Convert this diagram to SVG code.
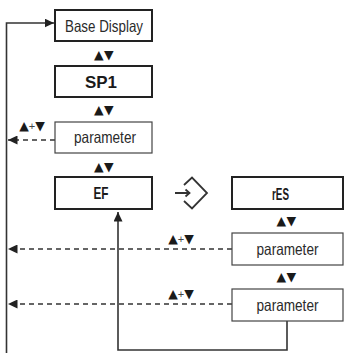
<svg xmlns="http://www.w3.org/2000/svg" width="345" height="353" viewBox="0 0 345 353">
<style>
.thick{fill:#fff;stroke:#222;stroke-width:2}
.thin{fill:#fff;stroke:#444;stroke-width:1.2}
.lbl{font-family:"Liberation Sans",Arial,sans-serif;font-size:16.5px;fill:#2a2a2a;text-anchor:middle}
.b{font-weight:bold;fill:#1a1a1a}
.sym{font-family:"DejaVu Sans",sans-serif;font-size:12.5px;fill:#1a1a1a;text-anchor:middle;letter-spacing:0.5px}
.plus{font-family:"Liberation Sans",Arial,sans-serif;font-size:11px;fill:#444}
.ln{stroke:#333;stroke-width:1.6;fill:none}
.dash{stroke-dasharray:5 4}
</style>
<defs>
<marker id="ah" markerUnits="userSpaceOnUse" markerWidth="10" markerHeight="9" refX="9.5" refY="4.5" orient="auto">
<path d="M0,0 L9.5,4.5 L0,9 z" fill="#222"/>
</marker>
</defs>
<g id="connectors">
<path class="ln" d="M6.5,353 V23 H54" marker-end="url(#ah)"/>
<path class="ln dash" d="M55,140 H8" marker-end="url(#ah)"/>
<path class="ln dash" d="M232,249 H8" marker-end="url(#ah)"/>
<path class="ln dash" d="M232,304 H8" marker-end="url(#ah)"/>
<path class="ln" d="M287,321 V350 H118 V212" marker-end="url(#ah)"/>
<text class="sym" x="104" y="58.5">▲▼</text>
<text class="sym" x="104" y="113.5">▲▼</text>
<text class="sym" x="104" y="170.5">▲▼</text>
<text class="sym" x="286.5" y="224.5">▲▼</text>
<text class="sym" x="286.5" y="280.5">▲▼</text>
<text class="sym" x="32" y="129.5" style="letter-spacing:0">▲<tspan class="plus">+</tspan>▼</text>
<text class="sym" x="181" y="242.5" style="letter-spacing:0">▲<tspan class="plus">+</tspan>▼</text>
<text class="sym" x="181" y="297.5" style="letter-spacing:0">▲<tspan class="plus">+</tspan>▼</text>
</g>
<g id="base">
<rect class="thick" x="55" y="10" width="97" height="31"/>
<text class="lbl" x="104" y="32" textLength="78" lengthAdjust="spacingAndGlyphs">Base Display</text>
</g>
<g id="sp1">
<rect class="thick" x="55" y="66" width="97" height="31"/>
<text class="lbl b" x="101" y="87.5" textLength="32" lengthAdjust="spacingAndGlyphs">SP1</text>
</g>
<g id="param1">
<rect class="thin" x="55" y="122" width="97" height="31"/>
<text class="lbl" x="105" y="143" textLength="62" lengthAdjust="spacingAndGlyphs">parameter</text>
</g>
<g id="ef">
<rect class="thick" x="55" y="177" width="97" height="32"/>
<text class="lbl b" x="101" y="199" textLength="15" lengthAdjust="spacingAndGlyphs">EF</text>
</g>
<g id="enter">
<path class="ln" style="stroke-width:1.8" d="M175,193 H189 M185.5,189.5 L189.5,193 L185.5,196.5 M184,185 L192,177.5 L207,193 L192,208.5 L184,201"/>
</g>
<g id="res">
<rect class="thick" x="232" y="177" width="111" height="32"/>
<text class="lbl b" x="280.5" y="200" textLength="17" lengthAdjust="spacingAndGlyphs">rES</text>
</g>
<g id="param2">
<rect class="thin" x="232" y="233" width="111" height="32"/>
<text class="lbl" x="287.5" y="254.5" textLength="62" lengthAdjust="spacingAndGlyphs">parameter</text>
</g>
<g id="param3">
<rect class="thin" x="232" y="289" width="111" height="32"/>
<text class="lbl" x="287.5" y="310.5" textLength="62" lengthAdjust="spacingAndGlyphs">parameter</text>
</g>
</svg>
